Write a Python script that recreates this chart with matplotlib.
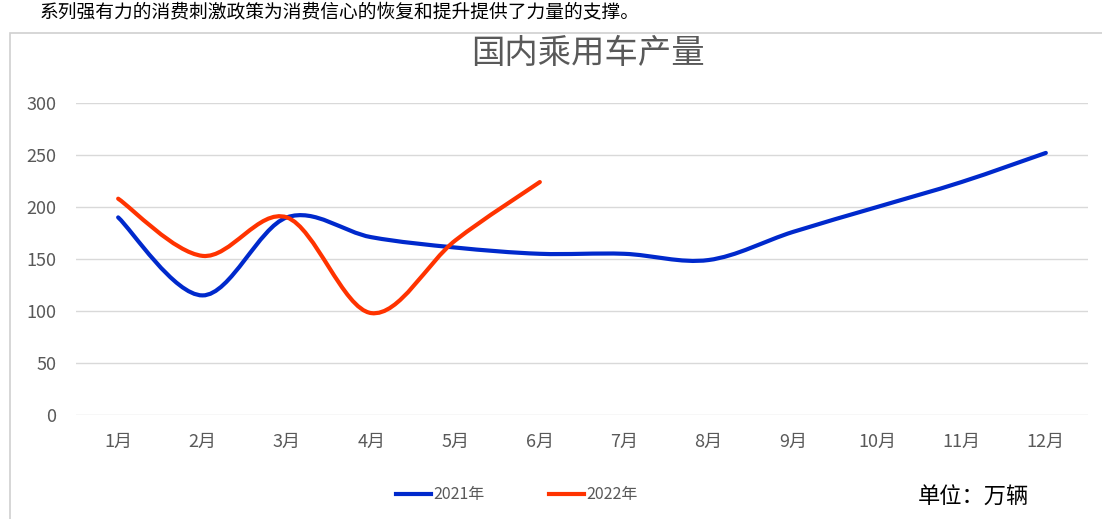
import matplotlib
matplotlib.use('Agg')
import matplotlib.pyplot as plt
from matplotlib.path import Path
from matplotlib.patches import PathPatch, Rectangle
from matplotlib.lines import Line2D

plt.rcParams['font.family'] = ['Noto Sans CJK SC', 'DejaVu Sans']

# Data (万辆)
months = ['1月', '2月', '3月', '4月', '5月', '6月', '7月', '8月', '9月', '10月', '11月', '12月']
y2021 = [190, 115, 190, 171, 161, 155, 155, 149, 176, 200, 224, 252]
y2022 = [208, 153, 190, 98, 168, 224]
yticks = [0, 50, 100, 150, 200, 250, 300]

color_2021 = '#0029CC'
color_2022 = '#FF3300'
grey = '#595959'


def smooth_path(xs, ys):
    # Excel-style smoothed line: cubic Bezier segments (Catmull-Rom control points)
    pts = list(zip(xs, ys))
    verts = [pts[0]]
    codes = [Path.MOVETO]
    n = len(pts)
    for i in range(n - 1):
        p0 = pts[i - 1] if i > 0 else pts[i]
        p1 = pts[i]
        p2 = pts[i + 1]
        p3 = pts[i + 2] if i + 2 < n else pts[i + 1]
        c1 = (p1[0] + (p2[0] - p0[0]) / 6, p1[1] + (p2[1] - p0[1]) / 6)
        c2 = (p2[0] - (p3[0] - p1[0]) / 6, p2[1] - (p3[1] - p1[1]) / 6)
        verts += [c1, c2, p2]
        codes += [Path.CURVE4] * 3
    return Path(verts, codes)


W, H = 1102, 519
fig = plt.figure(figsize=(W / 100, H / 100), dpi=100)

# body text above the chart
fig.text(40 / W, 1 - 1 / H, '系列强有力的消费刺激政策为消费信心的恢复和提升提供了力量的支撑。',
         fontsize=13.5, color='black', va='top', ha='left')

# chart frame
fig.patches.append(Rectangle((10 / W, -0.05), 1.2, 1 - 33 / H + 0.05,
                             transform=fig.transFigure, facecolor='white',
                             edgecolor='#D0D0D0', linewidth=1.2, zorder=0))

ax = fig.add_axes([76 / W, 1 - 415 / H, (1088 - 76) / W, (415 - 103) / H])
ax.set_zorder(2)
ax.set_facecolor('none')
ax.set_xlim(-0.5, len(months) - 0.5)
ax.set_ylim(0, 300)
ax.set_yticks(yticks)
ax.set_xticks(range(len(months)))
ax.set_xticklabels(months)
ax.tick_params(axis='both', length=0, labelsize=13, labelcolor=grey)
ax.tick_params(axis='x', pad=13)
ax.tick_params(axis='y', pad=14)
ax.grid(axis='y', color='#D9D9D9', linewidth=1)
ax.set_axisbelow(True)
for s in ax.spines.values():
    s.set_visible(False)

for vals, col in [(y2021, color_2021), (y2022, color_2022)]:
    p = smooth_path(list(range(len(vals))), vals)
    ax.add_patch(PathPatch(p, facecolor='none', edgecolor=col, linewidth=3,
                           capstyle='round', zorder=3))

fig.text(588 / W, 1 - 53 / H, '国内乘用车产量', fontsize=24, color=grey,
         ha='center', va='center', fontweight='medium')

# legend
handles = [Line2D([], [], color=color_2021, linewidth=3),
           Line2D([], [], color=color_2022, linewidth=3)]
fig.legend(handles, ['2021年', '2022年'], loc='center', bbox_to_anchor=(517 / W, 1 - 495 / H),
           ncol=2, frameon=False, fontsize=11.5, handlelength=2.2, handletextpad=0.15,
           columnspacing=4.0, labelcolor=grey)

fig.text(918 / W, 1 - 497 / H, '单位：万辆', fontsize=16, color='black',
         ha='left', va='center')

fig.savefig('out.png', dpi=100, facecolor='white')
